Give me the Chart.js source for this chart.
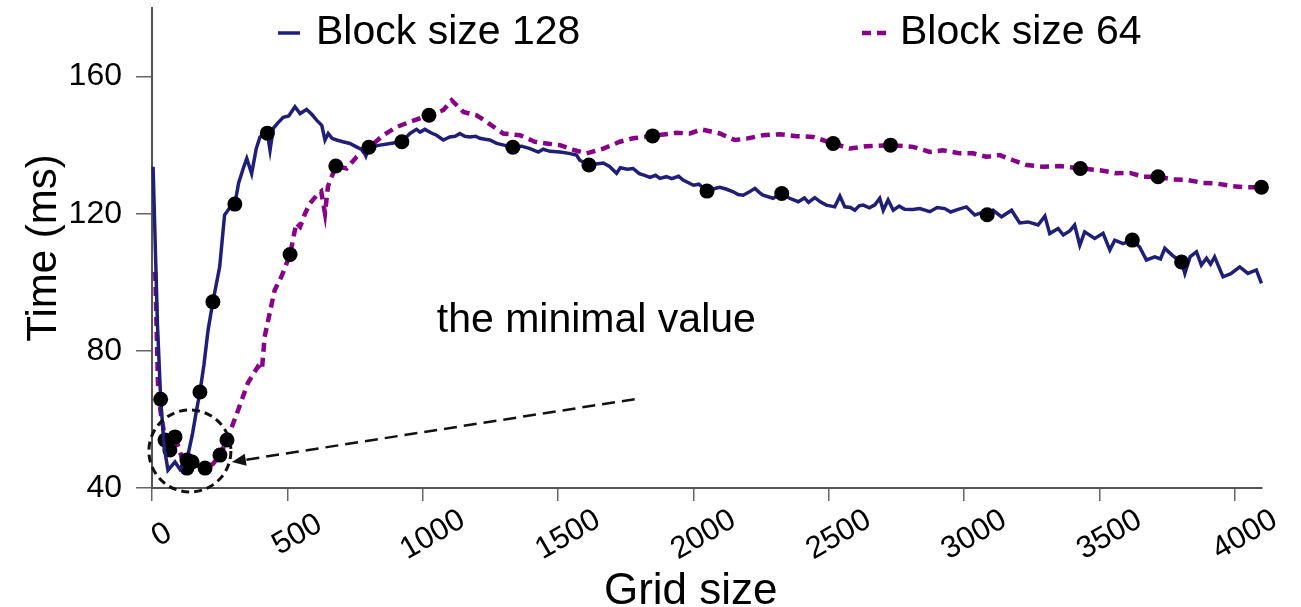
<!DOCTYPE html>
<html>
<head>
<meta charset="utf-8">
<script src="https://cdn.jsdelivr.net/npm/chart.js@4.4.1/dist/chart.umd.min.js"></script>
<style>
  html, body { margin: 0; padding: 0; background: #fff; }
  #wrap { width: 1301px; height: 607px; }
</style>
</head>
<body>
<div id="wrap"><canvas id="gridChart" width="1301" height="607"></canvas></div>
<script>
const FONT = '"Liberation Sans", Arial, Helvetica, sans-serif';
const NAVY = '#1f1f78';
const PURPLE = '#870087';

const seriesNames = ['Block size 128', 'Block size 64'];
const xTickValues = [0, 500, 1000, 1500, 2000, 2500, 3000, 3500, 4000];
const yTickValues = [40, 80, 120, 160];
const xTitle = 'Grid size';

// block size 128: grid size -> time (ms)
const grid128 = [4, 20, 32, 45, 59, 85, 103, 129, 150, 163, 177, 192, 207, 225, 250, 268, 285, 306, 320, 337,
  350, 368, 385, 399, 426, 436, 448, 465, 485, 505, 528, 547, 571, 590, 608, 627, 639, 651, 665, 682,
  705, 731, 755, 780, 790, 801, 842, 880, 923, 953, 977, 990, 1008, 1030, 1051, 1076, 1100, 1120, 1137, 1155,
  1174, 1195, 1211, 1230, 1248, 1273, 1300, 1333, 1365, 1396, 1427, 1445, 1470, 1507, 1540, 1568, 1580, 1614, 1640, 1667,
  1690, 1716, 1730, 1755, 1777, 1800, 1820, 1839, 1860, 1876, 1900, 1920, 1945, 1962, 2000, 2020, 2050, 2075, 2097, 2120,
  2147, 2165, 2184, 2205, 2227, 2245, 2257, 2294, 2326, 2355, 2387, 2410, 2425, 2448, 2470, 2491, 2522, 2541, 2559, 2580,
  2596, 2612, 2627, 2650, 2670, 2688, 2701, 2719, 2738, 2760, 2780, 2810, 2836, 2873, 2900, 2928, 2950, 2975, 3008, 3039,
  3060, 3085, 3107, 3138, 3175, 3205, 3236, 3273, 3298, 3316, 3347, 3366, 3390, 3408, 3427, 3445, 3482, 3513, 3538, 3556,
  3587, 3621, 3648, 3673, 3704, 3725, 3741, 3770, 3803, 3815, 3835, 3858, 3876, 3895, 3910, 3925, 3956, 3985, 4018, 4048,
  4079, 4098];
const time128 = [133.7, 88, 65.9, 52, 45.2, 47.6, 45.5, 48.2, 56, 62, 68, 76, 86, 94.3, 104.5, 119.6, 121.5, 122.8, 129, 133.2,
  136.1, 131.7, 139, 142.4, 143.5, 138.5, 144.9, 146.5, 148.1, 148.5, 151.2, 149.2, 150.4, 149, 147.3, 145.8, 141.5, 143.4, 142, 141.5,
  141, 140.5, 139.5, 138.5, 136.8, 139.4, 140, 140.5, 141, 143.4, 144.6, 143.8, 144.6, 143.6, 142.9, 141.5, 142.4, 142.6, 143.4, 142.6,
  142.4, 142.6, 142, 141.7, 141.5, 140.5, 140, 139.4, 139.7, 139, 138, 138.8, 138.2, 138, 137.6, 137.1, 135.6, 134.2, 134.5, 134.8,
  133.8, 131.8, 133.4, 133, 133.2, 131.7, 131.2, 130.6, 131.2, 130.3, 130.8, 130.2, 130.9, 129.8, 128.3, 128.6, 126.6, 127.3, 127.7, 127.2,
  126.4, 125.6, 125.4, 126.3, 127.4, 126.1, 125.4, 124.5, 125.9, 124.5, 123.5, 124.6, 123.3, 124.7, 123.4, 122.5, 122, 125.1, 122, 121.8,
  121, 122.3, 122.5, 121.7, 122.6, 124.5, 121, 124, 121, 122.2, 121.3, 121.2, 121.5, 120.6, 121.8, 121.5, 120.5, 121.2, 122, 119.6,
  120.2, 119.7, 121, 119.1, 121, 117.3, 117.6, 116.7, 119.3, 114.2, 115.7, 113.8, 115, 116.7, 110.8, 114.7, 112.8, 114.3, 109.4, 112.3,
  111.3, 112.3, 110.3, 106.5, 107.4, 106.8, 109.9, 107.8, 105.9, 102.6, 107.5, 108.9, 105, 107, 105.3, 107.4, 101.6, 102.5, 104.5, 102.6,
  103.6, 99.7];
const dots128 = [32, 129, 177, 225, 306, 426, 801, 923, 1333, 1614, 2050, 2326, 3085, 3621, 3803];

// block size 64: grid size -> time (ms)
const grid64 = [12, 22, 32, 41, 48, 66, 85, 110, 129, 148, 170, 196, 225, 251, 277, 318, 354, 391, 406, 416,
  453, 480, 510, 533, 547, 565, 583, 610, 625, 639, 650, 679, 719, 756, 805, 854, 904, 953, 1023, 1076,
  1107, 1150, 1199, 1236, 1297, 1359, 1414, 1457, 1507, 1562, 1605, 1667, 1728, 1777, 1849, 1937, 1987, 2030, 2097, 2153,
  2196, 2257, 2319, 2381, 2442, 2516, 2578, 2639, 2728, 2811, 2873, 2922, 2984, 3033, 3082, 3131, 3181, 3230, 3292, 3353,
  3429, 3501, 3562, 3612, 3661, 3716, 3771, 3827, 3882, 3932, 3993, 4042, 4098];
const time64 = [103, 70.6, 62, 57.9, 54, 51.1, 54.9, 49, 45.8, 47.6, 46.5, 45.8, 47, 49.6, 54, 62.7, 70.6, 75.4, 74.4, 84.1,
  97.7, 102, 108.1, 117.3, 116.2, 120, 123, 125.5, 126.5, 120.1, 128, 133.9, 133.2, 136.6, 139.5, 142.9, 145.3, 146.8, 148.7, 150.2,
  153.1, 149.7, 148.7, 146.8, 143.4, 142.9, 141, 140.5, 140, 138.5, 137.6, 139, 141, 142, 142.7, 143.6, 143.4, 144.6, 143.4, 141.5,
  141.9, 142.9, 143.2, 142.6, 142.4, 140.5, 139, 139.7, 140, 139.5, 138, 138.5, 137.6, 137.6, 136.6, 137.1, 135.6, 134.2, 133.7, 133.9,
  133.2, 132.7, 131.8, 131.9, 130.8, 130.8, 130, 129.8, 129, 128.8, 128, 127.7, 127.7];
const dots64 = [48, 66, 85, 129, 148, 196, 251, 277, 510, 679, 1023, 1849, 2516, 2728, 3429, 3716, 4098];

// note pointing at the minimum, positions in data units
const noteText = 'the minimal value';
const notePos = { x: 1052, y: 85.5 };
const minCircle = { x: 140, y: 50.8 };
const arrowFrom = { x: 1783, y: 65.9 };
const arrowTo = { x: 295, y: 47.6 };

const toPoints = (xs, ys) => xs.map((x, i) => ({ x: x, y: ys[i] }));

const decorations = {
  id: 'decorations',
  afterDatasetsDraw(chart) {
    const { ctx, scales: { x, y } } = chart;
    ctx.save();

    // slanted x tick labels
    ctx.font = `31px ${FONT}`;
    ctx.fillStyle = '#000';
    ctx.textAlign = 'center';
    ctx.textBaseline = 'middle';
    xTickValues.forEach(v => {
      ctx.save();
      ctx.translate(x.getPixelForValue(v) + 10, y.bottom + 47);
      ctx.rotate(-30 * Math.PI / 180);
      ctx.fillText(String(v), 0, 0);
      ctx.restore();
    });

    // x axis title, sits a little left of the axis centre
    ctx.font = `44px ${FONT}`;
    ctx.textBaseline = 'alphabetic';
    ctx.fillText(xTitle, x.getPixelForValue(1990), 604);

    // dashed circle round the minimum
    ctx.strokeStyle = '#111';
    ctx.lineWidth = 3;
    ctx.setLineDash([8, 5]);
    ctx.beginPath();
    ctx.arc(x.getPixelForValue(minCircle.x), y.getPixelForValue(minCircle.y), 41, 0, Math.PI * 2);
    ctx.stroke();

    // dashed arrow
    const x0 = x.getPixelForValue(arrowFrom.x), y0 = y.getPixelForValue(arrowFrom.y);
    const x1 = x.getPixelForValue(arrowTo.x), y1 = y.getPixelForValue(arrowTo.y);
    const ang = Math.atan2(y1 - y0, x1 - x0);
    const head = 14;
    ctx.lineWidth = 2.5;
    ctx.setLineDash([13, 7]);
    ctx.beginPath();
    ctx.moveTo(x0, y0);
    ctx.lineTo(x1 - head * Math.cos(ang), y1 - head * Math.sin(ang));
    ctx.stroke();
    ctx.setLineDash([]);
    ctx.fillStyle = '#111';
    ctx.beginPath();
    ctx.moveTo(x1, y1);
    ctx.lineTo(x1 - head * Math.cos(ang) + 6 * Math.sin(ang), y1 - head * Math.sin(ang) - 6 * Math.cos(ang));
    ctx.lineTo(x1 - head * Math.cos(ang) - 6 * Math.sin(ang), y1 - head * Math.sin(ang) + 6 * Math.cos(ang));
    ctx.closePath();
    ctx.fill();

    // note text
    ctx.fillStyle = '#000';
    ctx.font = `41px ${FONT}`;
    ctx.textAlign = 'left';
    ctx.fillText(noteText, x.getPixelForValue(notePos.x), y.getPixelForValue(notePos.y));

    // legend
    ctx.textBaseline = 'middle';
    ctx.lineWidth = 3.5;
    ctx.strokeStyle = NAVY;
    ctx.beginPath();
    ctx.moveTo(278, 33);
    ctx.lineTo(300, 33);
    ctx.stroke();
    ctx.fillText(seriesNames[0], 316, 33);

    ctx.lineWidth = 4.5;
    ctx.strokeStyle = PURPLE;
    ctx.setLineDash([9, 6]);
    ctx.beginPath();
    ctx.moveTo(862, 33);
    ctx.lineTo(890, 33);
    ctx.stroke();
    ctx.setLineDash([]);
    ctx.fillText(seriesNames[1], 900, 33);

    ctx.restore();
  }
};

new Chart(document.getElementById('gridChart').getContext('2d'), {
  type: 'line',
  data: {
    datasets: [{
      label: seriesNames[0],
      data: toPoints(grid128, time128),
      borderColor: NAVY,
      borderWidth: 3.5,
      pointRadius: c => (c.raw && dots128.includes(c.raw.x)) ? 7.5 : 0,
      pointBackgroundColor: '#000',
      pointBorderWidth: 0,
      tension: 0,
      clip: false
    }, {
      label: seriesNames[1],
      data: toPoints(grid64, time64),
      borderColor: PURPLE,
      borderWidth: 4.5,
      borderDash: [9, 6],
      pointRadius: c => (c.raw && dots64.includes(c.raw.x)) ? 7.5 : 0,
      pointBackgroundColor: '#000',
      pointBorderWidth: 0,
      tension: 0,
      clip: false
    }]
  },
  options: {
    responsive: false,
    devicePixelRatio: 1,
    animation: false,
    layout: { padding: { left: 0, right: 39, top: 8, bottom: 0 } },
    plugins: { legend: { display: false }, tooltip: { enabled: false } },
    scales: {
      x: {
        type: 'linear',
        min: 0,
        max: 4100,
        afterBuildTicks: s => { s.ticks = xTickValues.map(v => ({ value: v })); },
        ticks: { display: false },
        grid: { drawOnChartArea: false, drawTicks: true, tickLength: 13, color: '#666', lineWidth: 1.5 },
        border: { display: true, color: '#555', width: 2 },
        afterFit: s => {
          s.height = 119;
          s.paddingLeft = 0;
          s.paddingRight = 0;
        }
      },
      y: {
        min: 40,
        max: 180,
        afterBuildTicks: s => { s.ticks = yTickValues.map(v => ({ value: v })); },
        ticks: { color: '#000', padding: 14, font: { family: FONT, size: 32 } },
        grid: { drawOnChartArea: false, drawTicks: true, tickLength: 16, color: '#666', lineWidth: 1.5 },
        border: { display: true, color: '#555', width: 2 },
        title: {
          display: true, text: 'Time (ms)', color: '#000', padding: { top: 19, bottom: 0 },
          font: { family: FONT, size: 42, lineHeight: 1.2 }
        },
        afterFit: s => {
          s.width = 152;
          s.paddingTop = 0;
          s.paddingBottom = 0;
        }
      }
    }
  },
  plugins: [decorations]
});
</script>
</body>
</html>
